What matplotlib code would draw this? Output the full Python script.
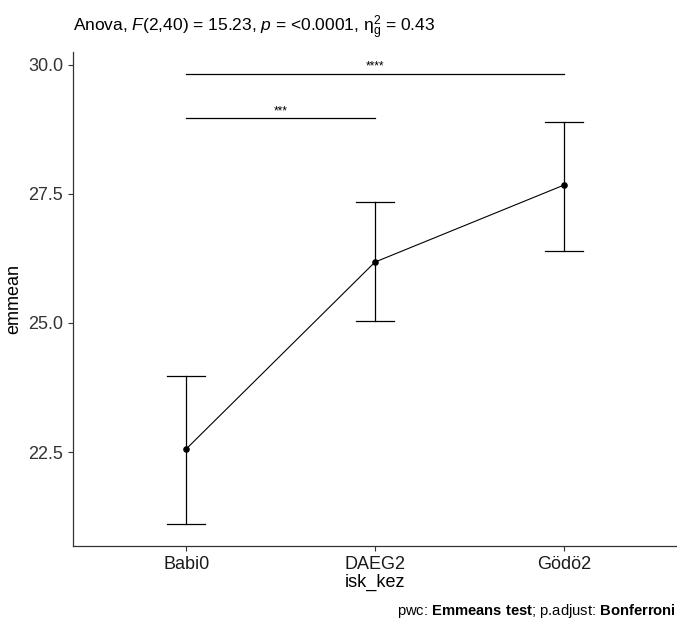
import matplotlib
matplotlib.use("Agg")
import matplotlib.pyplot as plt

plt.rcParams['font.family'] = ['Liberation Sans', 'DejaVu Sans']
plt.rcParams['mathtext.fontset'] = 'custom'
plt.rcParams['mathtext.rm'] = 'Liberation Sans'
plt.rcParams['mathtext.it'] = 'Liberation Sans:italic'
plt.rcParams['mathtext.bf'] = 'Liberation Sans:bold'

categories = ["Babi0", "DAEG2", "Gödö2"]
emmean = [22.56, 26.18, 27.67]
lower = [21.10, 25.04, 26.40]
upper = [23.97, 27.35, 28.90]

brackets = [(0, 1, 28.97, "***"), (0, 2, 29.83, "****")]

fig = plt.figure(figsize=(6.77, 6.21), dpi=100)
ax = fig.add_axes([0.1078, 0.1208, 0.8922, 0.7955])

x = list(range(1, len(categories) + 1))
ax.plot(x, emmean, color='black', lw=0.8, zorder=2)
for xi, m, lo, hi in zip(x, emmean, lower, upper):
    ax.plot([xi, xi], [lo, hi], color='black', lw=0.9, zorder=1)
    ax.plot([xi - 0.1, xi + 0.1], [lo, lo], color='black', lw=0.9)
    ax.plot([xi - 0.1, xi + 0.1], [hi, hi], color='black', lw=0.9)
ax.scatter(x, emmean, color='black', s=14, zorder=3)

for a, b, y, lab in brackets:
    ax.plot([x[a], x[b]], [y, y], color='black', lw=0.9)
    ax.text((x[a] + x[b]) / 2, y + 0.02, lab, ha='center', va='bottom', fontsize=8.5)

ax.set_xlim(0.4, 3.6)
ax.set_ylim(20.68, 30.25)
ax.set_xticks(x)
ax.set_xticklabels(categories)
ax.set_yticks([22.5, 25.0, 27.5, 30.0])
ax.set_yticklabels(["22.5", "25.0", "27.5", "30.0"])
ax.tick_params(labelsize=13, colors='#333333', length=3.5, width=0.8)
ax.tick_params(axis='x', labelcolor='#1a1a1a')
ax.tick_params(axis='y', labelcolor='#333333')
for s in ['top', 'right']:
    ax.spines[s].set_visible(False)
for s in ['left', 'bottom']:
    ax.spines[s].set_linewidth(0.9)
    ax.spines[s].set_color('#333333')
ax.set_xlabel("isk_kez", fontsize=13, labelpad=1)
ax.set_ylabel("emmean", fontsize=13, labelpad=4)

fig.text(0.108, 0.932,
         r"Anova, $\mathit{F}$(2,40) = 15.23, $\mathit{p}$ = <0.0001, $\mathrm{\eta}^{2}_{\mathrm{g}}$ = 0.43",
         fontsize=12.5, ha='left', va='bottom')
fig.text(0.998, 0.002, "pwc: $\\bf{Emmeans\\ test}$; p.adjust: $\\bf{Bonferroni}$",
         fontsize=10.6, ha='right', va='bottom')

fig.savefig("out.png", dpi=100)
